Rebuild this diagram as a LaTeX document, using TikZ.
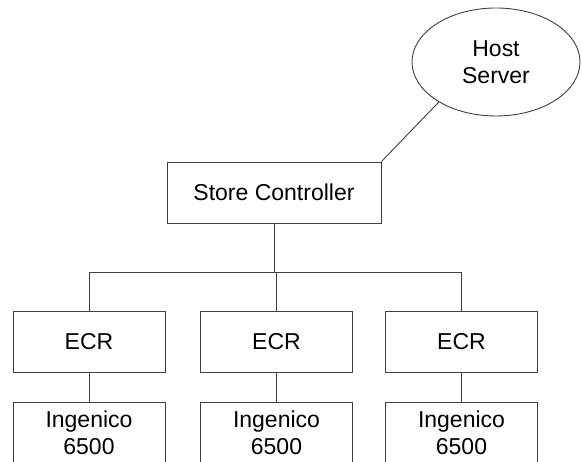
\documentclass[tikz,border=0pt]{standalone}
\usepackage{fontspec}
\setmainfont{Liberation Sans}
\usetikzlibrary{shapes.geometric}
\begin{document}
\begin{tikzpicture}[x=1pt,y=1pt,
  box/.style={draw=black!75,line width=0.9pt,minimum width=152pt,minimum height=61pt,inner sep=0pt,font=\fontsize{23}{27}\selectfont,align=center},
  wire/.style={draw=black!75,line width=0.9pt}]
\useasboundingbox (0,0) rectangle (582,462);
\clip (0,0) rectangle (582,462);
\node[ellipse,draw=black!75,line width=0.9pt,minimum width=168pt,minimum height=108pt,inner sep=0pt,font=\fontsize{23}{27}\selectfont,align=center] (hs) at (496,400) {Host\\Server};
\node[box,minimum width=214pt] (sc) at (274,269.5) {Store Controller};
\node[box] (e1) at (89,120.5) {ECR};
\node[box] (e2) at (276.5,120.5) {ECR};
\node[box] (e3) at (461.5,120.5) {ECR};
\node[box] (i1) at (89,29.5) {Ingenico\\6500};
\node[box] (i2) at (276.5,29.5) {Ingenico\\6500};
\node[box] (i3) at (461.5,29.5) {Ingenico\\6500};
\coordinate (b1) at (e1.north |- 0,190);
\coordinate (b2) at (e2.north |- 0,190);
\coordinate (b3) at (e3.north |- 0,190);
\draw[wire] (hs.215) -- (sc.north east);
\draw[wire] (sc.south) -- (sc.south |- b2);
\draw[wire] (b1) -- (b3);
\draw[wire] (b1) -- (e1.north);
\draw[wire] (b2) -- (e2.north);
\draw[wire] (b3) -- (e3.north);
\draw[wire] (e1.south) -- (i1.north);
\draw[wire] (e2.south) -- (i2.north);
\draw[wire] (e3.south) -- (i3.north);
\end{tikzpicture}
\end{document}
